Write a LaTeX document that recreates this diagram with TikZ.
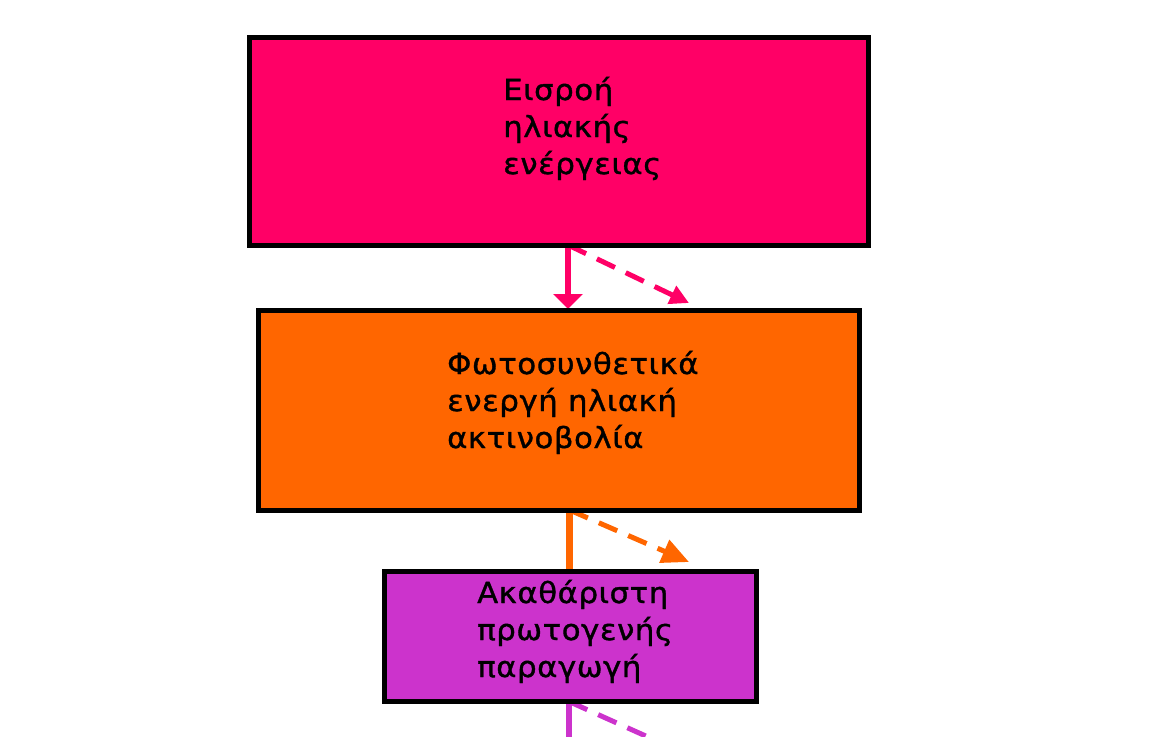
\documentclass[tikz,border=0pt]{standalone}
\usepackage{fontspec}
\setmainfont{DejaVu Sans}[FakeStretch=1.06, LetterSpace=2, FakeBold=1.2]
\usetikzlibrary{arrows.meta}
\definecolor{inflow}{HTML}{FF0066}
\definecolor{par}{HTML}{FF6600}
\definecolor{gpp}{HTML}{CC33CC}
\begin{document}
\begin{tikzpicture}[x=1pt, y=-1pt,
		box/.style={draw=black, line width=5pt, inner sep=0pt},
		txt/.style={anchor=base west, align=left, inner sep=0pt,
			font=\fontsize{29}{37}\selectfont},
		flow/.style={line width=6.5pt},
		leak/.style={line width=5pt, dash pattern=on 20pt off 12pt}]
		\clip (0, 0) rectangle (1166, 736);
		% the three stores
		\coordinate (pinkout) at (568, 245);
		\coordinate (parout) at (569.5, 510);
		\coordinate (gppout) at (569, 701.5);
		\draw[flow, inflow, -{Triangle[width=29pt, length=15pt]}]
			(pinkout) -- (pinkout |- 0, 309);
		\draw[leak, inflow, -{Triangle[width=19pt, length=19pt]}]
			(pinkout) -- (689, 303);
		\draw[flow, par] (parout) -- (parout |- 0, 571.5);
		\draw[leak, par, -{Triangle[width=24pt, length=27pt]}]
			(parout) -- (689, 562);
		\draw[flow, gpp] (gppout) -- (gppout |- 0, 760);
		\draw[leak, gpp] (gppout) -- (688, 755);
		\node[box, fill=inflow, minimum width=619pt, minimum height=208pt]
			(pink) at (558.5, 141) {};
		\node[box, fill=par, minimum width=601pt, minimum height=200pt]
			(orng) at (558.5, 410) {};
		\node[box, fill=gpp, minimum width=371.5pt, minimum height=130pt]
			(purp) at (570.25, 636.5) {};
		% last baseline of each text
		\node[txt] (pinktxt) at (503, 174) {Εισροή\\ηλιακής\\ενέργειας};
		\node[txt] (orngtxt) at (447, 448) {Φωτοσυνθετικά\\ενεργή ηλιακή\\ακτινοβολία};
		\node[txt] (purptxt) at (477, 677) {Ακαθάριστη\\πρωτογενής\\παραγωγή};
	\end{tikzpicture}
\end{document}
